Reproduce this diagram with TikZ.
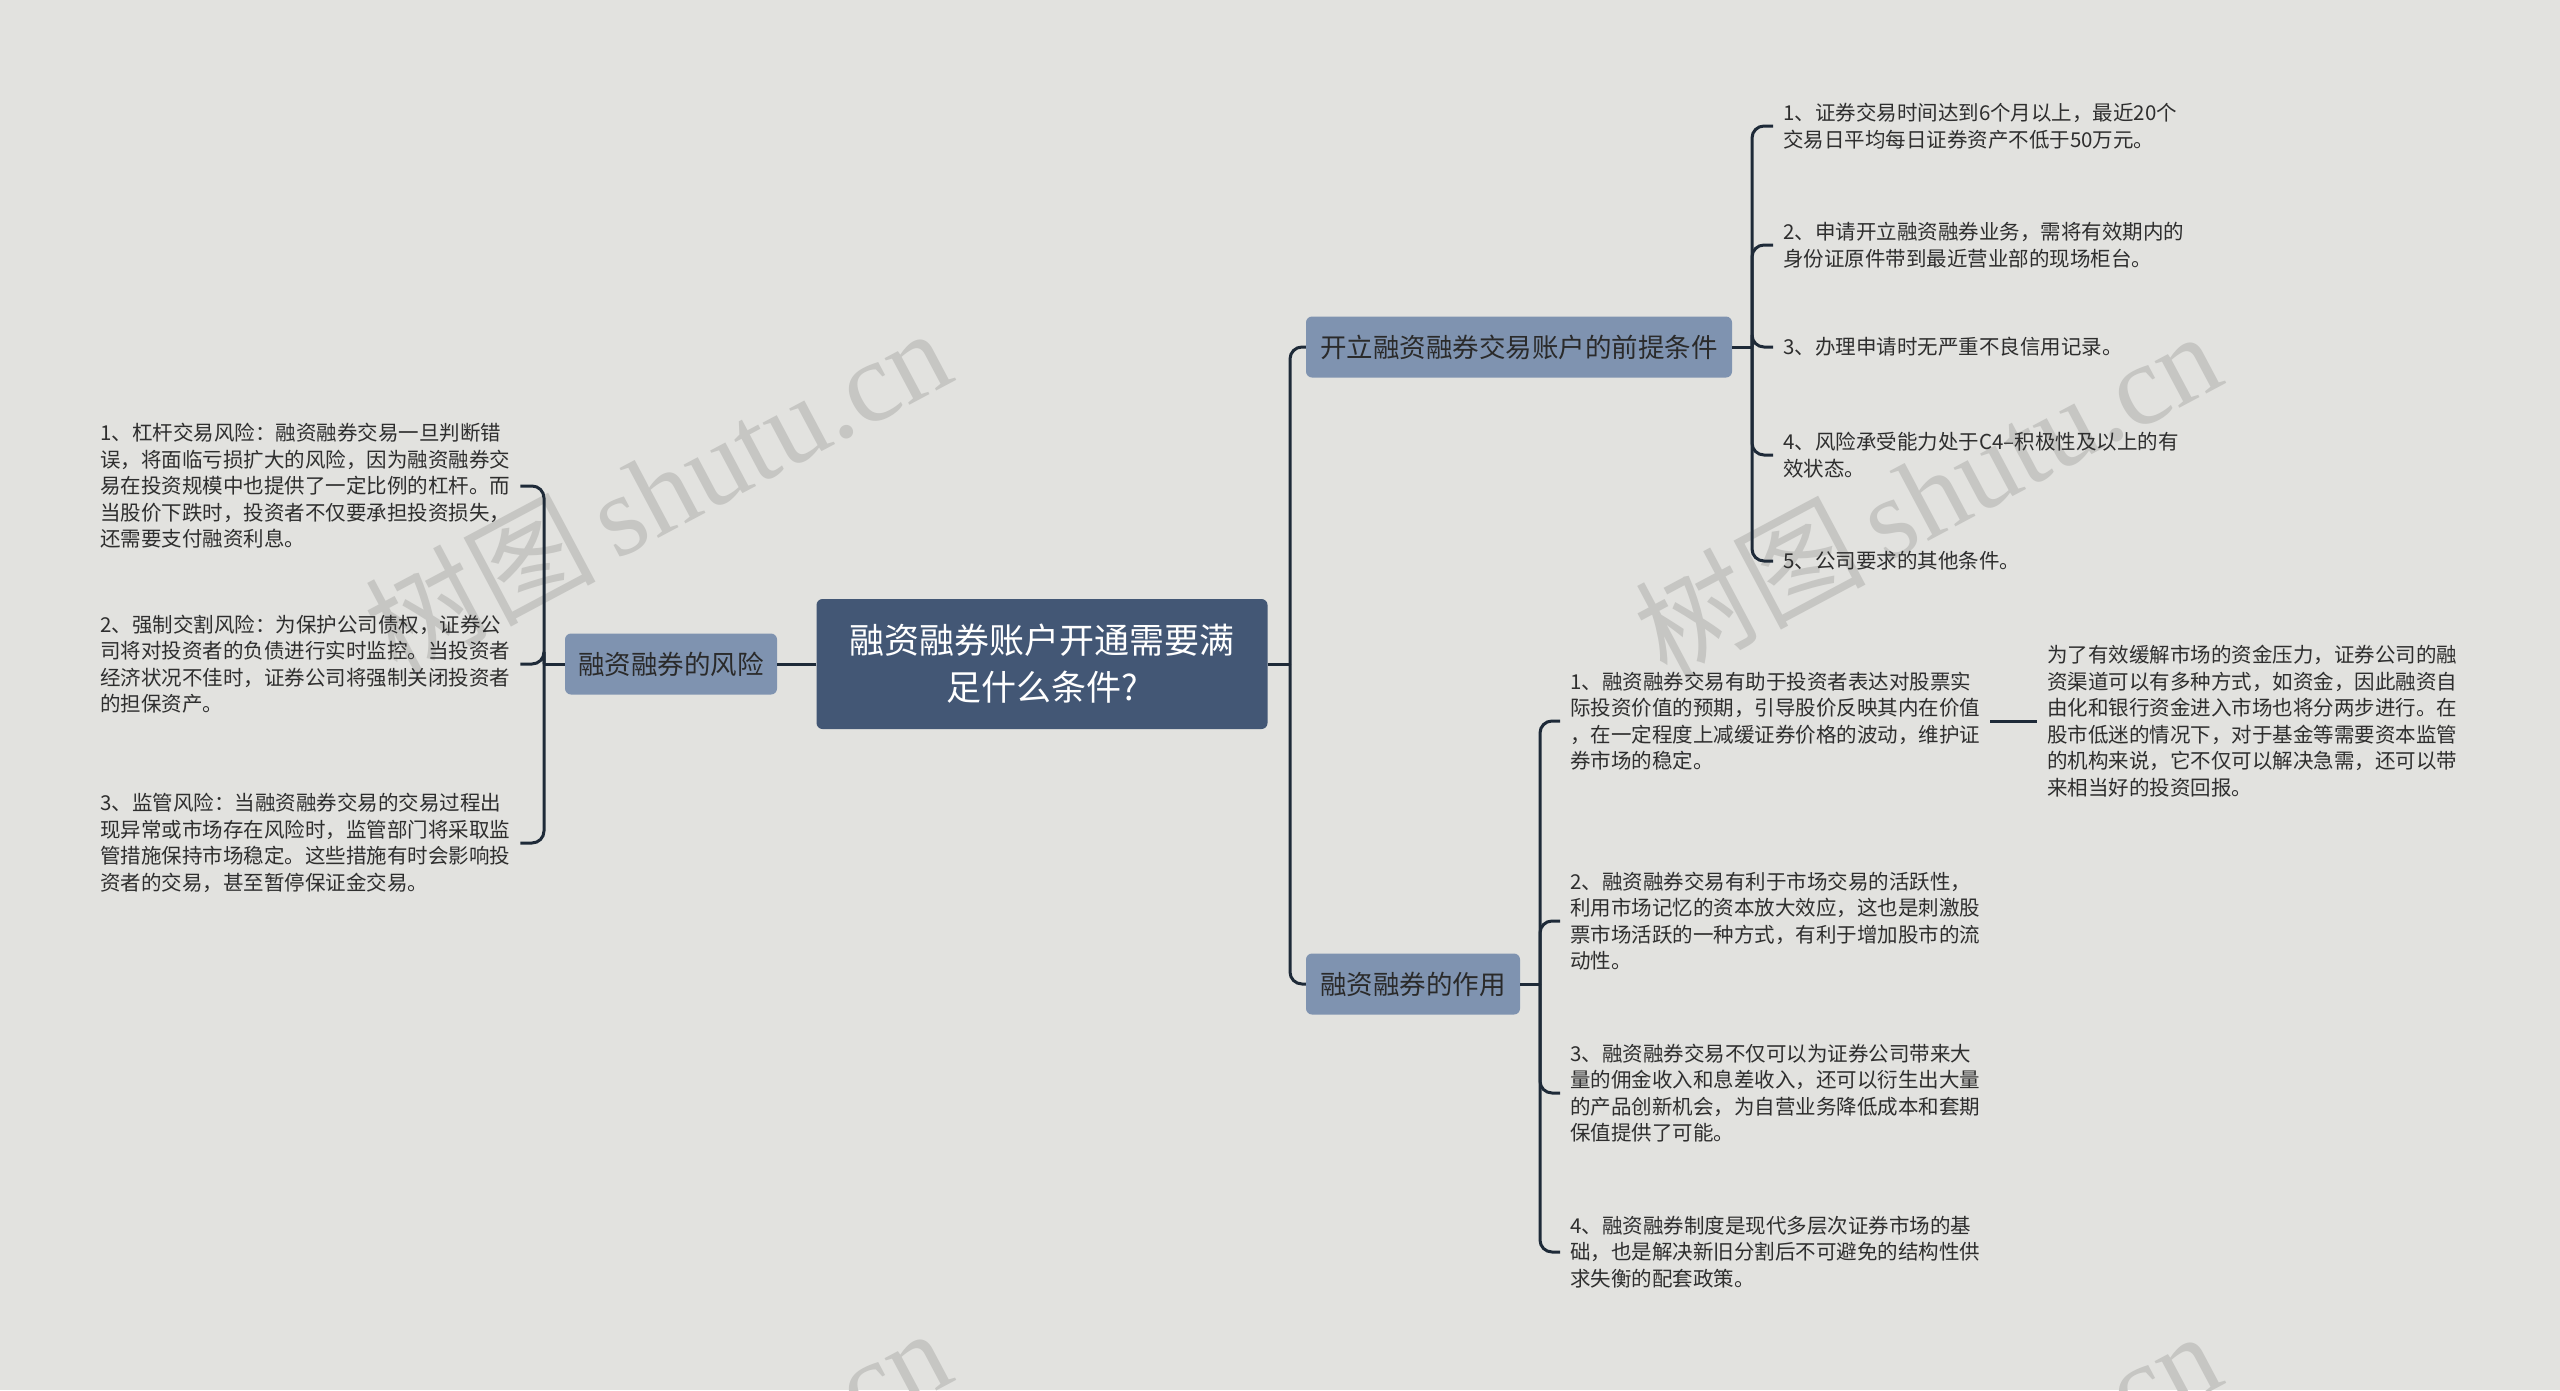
\documentclass[tikz,border=0pt]{standalone}
\usepackage{fontspec}
\setmainfont{Noto Sans CJK SC}
\newfontfamily\wmserif{Liberation Serif}
\definecolor{bgc}{HTML}{E2E2DF}
\definecolor{linec}{HTML}{1E2A38}
\definecolor{rootc}{HTML}{435775}
\definecolor{subc}{HTML}{7F93B0}
\definecolor{subtext}{HTML}{2A2A2A}
\definecolor{leaftext}{HTML}{2E2E2E}
\definecolor{wmc}{HTML}{C6C6C3}
\begin{document}
\begin{tikzpicture}[x=1pt,y=-1pt,
  conn/.style={draw=linec, line width=3pt, rounded corners=12pt},
  rootbox/.style={fill=rootc, rounded corners=6pt, text=white, font=\fontsize{35}{47}\selectfont, align=center, minimum width=451pt, minimum height=130pt, inner sep=0pt},
  subbox/.style={fill=subc, rounded corners=6pt, text=subtext, font=\fontsize{26.5}{32}\selectfont, minimum height=61pt, inner sep=0pt},
  leaf/.style={text=leaftext, font=\fontsize{20.5}{26.5}\selectfont, align=left, inner xsep=10pt, inner ysep=0pt},
  wm/.style={text=wmc, rotate=28, font=\fontsize{115}{120}\selectfont, inner sep=0pt}
]
\useasboundingbox (0,0) rectangle (2560,1390);
\clip (0,0) rectangle (2560,1390);
\fill[bgc] (0,0) rectangle (2560,1390);

% watermarks
\node[wm] (wm1) at (657,490) {树图\,{\wmserif shutu.cn}};
\node[wm] (wm2) at (1927,493) {树图\,{\wmserif shutu.cn}};
\node[wm] (wm3) at (657,1490) {树图\,{\wmserif shutu.cn}};
\node[wm] (wm4) at (1927,1493) {树图\,{\wmserif shutu.cn}};

% main nodes
\node[rootbox] (root) at (1042,664) {融资融券账户开通需要满\\足什么条件?};
\node[subbox, minimum width=212pt] (risk) at (671,664) {融资融券的风险};
\node[subbox, minimum width=426pt] (cond) at (1519,347) {开立融资融券交易账户的前提条件};
\node[subbox, minimum width=214pt] (role) at (1413,984) {融资融券的作用};

% left leaves
\node[leaf, anchor=west] (l1) at (90,486) {1、杠杆交易风险：融资融券交易一旦判断错\\误，将面临亏损扩大的风险，因为融资融券交\\易在投资规模中也提供了一定比例的杠杆。而\\当股价下跌时，投资者不仅要承担投资损失，\\还需要支付融资利息。};
\node[leaf, anchor=west] (l2) at (90,664) {2、强制交割风险：为保护公司债权，证券公\\司将对投资者的负债进行实时监控。当投资者\\经济状况不佳时，证券公司将强制关闭投资者\\的担保资产。};
\node[leaf, anchor=west] (l3) at (90,843) {3、监管风险：当融资融券交易的交易过程出\\现异常或市场存在风险时，监管部门将采取监\\管措施保持市场稳定。这些措施有时会影响投\\资者的交易，甚至暂停保证金交易。};

% top right leaves
\node[leaf, anchor=west] (c1) at (1773,126) {1、证券交易时间达到6个月以上，最近20个\\交易日平均每日证券资产不低于50万元。};
\node[leaf, anchor=west] (c2) at (1773,245) {2、申请开立融资融券业务，需将有效期内的\\身份证原件带到最近营业部的现场柜台。};
\node[leaf, anchor=west] (c3) at (1773,347) {3、办理申请时无严重不良信用记录。};
\node[leaf, anchor=west] (c4) at (1773,455) {4、风险承受能力处于C4–积极性及以上的有\\效状态。};
\node[leaf, anchor=west] (c5) at (1773,561) {5、公司要求的其他条件。};

% bottom right leaves
\node[leaf, anchor=west] (d1) at (1560,721) {1、融资融券交易有助于投资者表达对股票实\\际投资价值的预期，引导股价反映其内在价值\\，在一定程度上减缓证券价格的波动，维护证\\券市场的稳定。};
\node[leaf, anchor=west] (e1) at (2037,721) {为了有效缓解市场的资金压力，证券公司的融\\资渠道可以有多种方式，如资金，因此融资自\\由化和银行资金进入市场也将分两步进行。在\\股市低迷的情况下，对于基金等需要资本监管\\的机构来说，它不仅可以解决急需，还可以带\\来相当好的投资回报。};
\node[leaf, anchor=west] (d2) at (1560,921) {2、融资融券交易有利于市场交易的活跃性，\\利用市场记忆的资本放大效应，这也是刺激股\\票市场活跃的一种方式，有利于增加股市的流\\动性。};
\node[leaf, anchor=west] (d3) at (1560,1093) {3、融资融券交易不仅可以为证券公司带来大\\量的佣金收入和息差收入，还可以衍生出大量\\的产品创新机会，为自营业务降低成本和套期\\保值提供了可能。};
\node[leaf, anchor=west] (d4) at (1560,1252) {4、融资融券制度是现代多层次证券市场的基\\础，也是解决新旧分割后不可避免的结构性供\\求失衡的配套政策。};

% junction coordinates
\coordinate (jr) at (1290,664);
\coordinate (jl) at (544,664);
\coordinate (jc) at (1752,347);
\coordinate (jd) at (1540,984);

% connectors
\draw[conn] (root.west) -- (risk.east);
\draw[conn] (root.east) -- (jr);
\draw[conn] (jr) |- (cond.west);
\draw[conn] (jr) |- (role.west);

\draw[conn] (risk.west) -- (jl);
\draw[conn] (jl) |- (l1.east);
\draw[conn] (jl) |- (l2.east);
\draw[conn] (jl) |- (l3.east);

\draw[conn] (cond.east) -- (jc);
\draw[conn] (jc) |- (c1.west);
\draw[conn] (jc) |- (c2.west);
\draw[conn] (jc) |- (c3.west);
\draw[conn] (jc) |- (c4.west);
\draw[conn] (jc) |- (c5.west);

\draw[conn] (role.east) -- (jd);
\draw[conn] (jd) |- (d1.west);
\draw[conn] (jd) |- (d2.west);
\draw[conn] (jd) |- (d3.west);
\draw[conn] (jd) |- (d4.west);

\draw[conn] (d1.east) -- (e1.west);
\end{tikzpicture}
\end{document}
